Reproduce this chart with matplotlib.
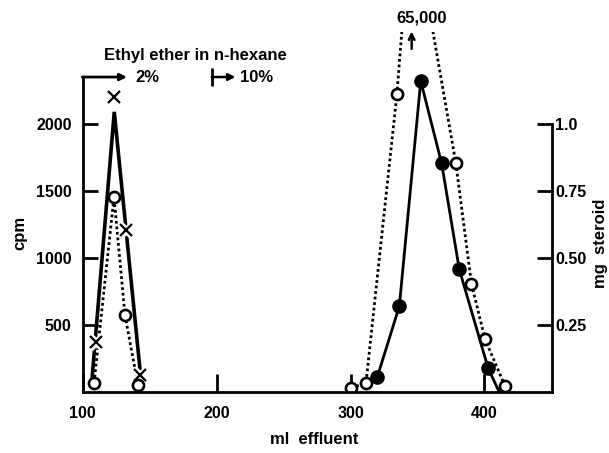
import matplotlib
matplotlib.use("Agg")
import matplotlib.pyplot as plt

# --- data ---
# first peak (2% ether): open circles, crosses and a solid trace
early_circ_ml = [108.4, 123.3, 131.5, 141.2]
early_circ_cpm = [67, 1455, 574, 52]
early_x_ml = [109.9, 123.3, 132.3, 142.7]
early_x_cpm = [373, 2201, 1209, 130]
early_line_ml = [106.9, 123.5, 143.5]
early_line_cpm = [100, 2090, 90]

# second peak (10% ether): open circles, dotted trace goes off scale (65,000 cpm)
late_circ_ml = [300.2, 311.5, 334.6, 378.6, 390.3, 400.4, 415.3]
late_circ_cpm = [30, 67, 2223, 1708, 806, 395, 45]
offscale_ml = [339.9, 357.8]
offscale_cpm = [2900, 2900]

# mg steroid (filled circles, right axis)
steroid_ml = [320.0, 336.4, 352.4, 368.0, 381.2, 402.8]
steroid_mg = [0.057, 0.32, 1.16, 0.853, 0.457, 0.088]
steroid_end_ml = 411
cpm_per_mg = 2000

xticks = [100, 200, 300, 400]
cpm_ticks = [500, 1000, 1500, 2000]
mg_ticks = [0.25, 0.5, 0.75, 1.0]
mg_labels = ["0.25", "0.50", "0.75", "1.0"]

plt.rcParams["font.family"] = ["Liberation Sans", "DejaVu Sans"]
plt.rcParams["font.weight"] = "bold"
fs = 12
tfs = 11.5

fig = plt.figure(figsize=(6.09, 4.53), dpi=100)
ax = fig.add_axes([82.8 / 609, 61 / 453, (552.1 - 82.8) / 609, 360 / 453])
ymax = 2686
ax.set_xlim(100, 450.5)
ax.set_ylim(0, ymax)

# solid trace, first peak
ax.plot(early_line_ml, early_line_cpm, color="black", lw=2.6, solid_joinstyle="miter")
# dotted traces
ax.plot(early_circ_ml, early_circ_cpm, color="black", lw=2, ls=(0, (1, 1)))
dot_ml = late_circ_ml[:3] + offscale_ml + late_circ_ml[3:]
dot_cpm = late_circ_cpm[:3] + offscale_cpm + late_circ_cpm[3:]
ax.plot(dot_ml, dot_cpm, color="black", lw=2, ls=(0, (1, 1)))

# crosses with a white halo so they break the line
ax.plot(early_x_ml, early_x_cpm, ls="none", marker="x", ms=9, mew=5, color="white")
ax.plot(early_x_ml, early_x_cpm, ls="none", marker="x", ms=8, mew=1.6, color="black")

# open circles
ax.plot(early_circ_ml + late_circ_ml, early_circ_cpm + late_circ_cpm, ls="none",
        marker="o", ms=8, mfc="white", mec="black", mew=1.9)

# right axis, mg steroid
ax2 = ax.twinx()
ax2.set_ylim(0, ymax / cpm_per_mg)
ax2.plot(steroid_ml + [steroid_end_ml], steroid_mg + [0], color="black", lw=2)
ax2.plot(steroid_ml, steroid_mg, ls="none", marker="o", ms=9.5, color="black")

for a in (ax, ax2):
    a.spines["top"].set_visible(False)
    a.patch.set_visible(False)
ax.spines["right"].set_visible(False)
ax2.spines["left"].set_visible(False)
ax2.spines["bottom"].set_visible(False)
for s in ("left", "bottom"):
    ax.spines[s].set_linewidth(2)
ax2.spines["right"].set_linewidth(2)
ax.spines["left"].set_bounds(0, 2350)
ax2.spines["right"].set_bounds(0, 1.0)

ax.set_xticks(xticks)
ax.set_xticklabels([str(v) for v in xticks])
ax.set_yticks(cpm_ticks)
ax.set_yticklabels([str(v) for v in cpm_ticks])
ax.tick_params(axis="x", direction="in", length=13, width=2, pad=10, labelsize=tfs)
ax.tick_params(axis="y", direction="in", length=11, width=2, pad=8, labelsize=tfs)
ax2.set_yticks(mg_ticks)
ax2.set_yticklabels(mg_labels)
ax2.tick_params(axis="y", direction="in", length=11, width=2, pad=2, labelsize=tfs)

# solvent change annotations
ax.annotate("", xy=(133, 2350), xytext=(99.6, 2350), annotation_clip=False,
            arrowprops=dict(arrowstyle="-|>", lw=2, color="black", shrinkA=0, shrinkB=0,
                            mutation_scale=10))
ax.text(139, 2350, "2%", ha="left", va="center", fontsize=fs, fontweight="bold")
ax.annotate("", xy=(214, 2350), xytext=(196.3, 2350), annotation_clip=False,
            arrowprops=dict(arrowstyle="-|>", lw=1.8, color="black", shrinkA=0, shrinkB=0,
                            mutation_scale=10))
ax.vlines(196.3, 2280, 2420, color="black", lw=2, clip_on=False)
ax.text(217.5, 2350, "10%", ha="left", va="center", fontsize=fs, fontweight="bold")
ax.text(115.5, 2514, "Ethyl ether in n-hexane", ha="left", va="center", fontsize=fs,
        fontweight="bold")

# off-scale peak
ax.annotate("", xy=(345.6, 2690), xytext=(345.6, 2560), annotation_clip=False,
            arrowprops=dict(arrowstyle="->", lw=1.8, color="black", shrinkA=0, shrinkB=0))
ax.text(353.1, 2790, "65,000", ha="center", va="center", fontsize=fs, fontweight="bold")

fig.text(20 / 609, 1 - 233 / 453, "cpm", rotation=90, ha="center", va="center",
         fontsize=fs, fontweight="bold")
fig.text(314 / 609, 1 - 440 / 453, "ml  effluent", ha="center", va="center",
         fontsize=fs, fontweight="bold")
fig.text(601 / 609, 1 - 243 / 453, "mg  steroid", rotation=90, ha="center", va="center",
         fontsize=fs, fontweight="bold")

fig.savefig("out.png", dpi=100)
